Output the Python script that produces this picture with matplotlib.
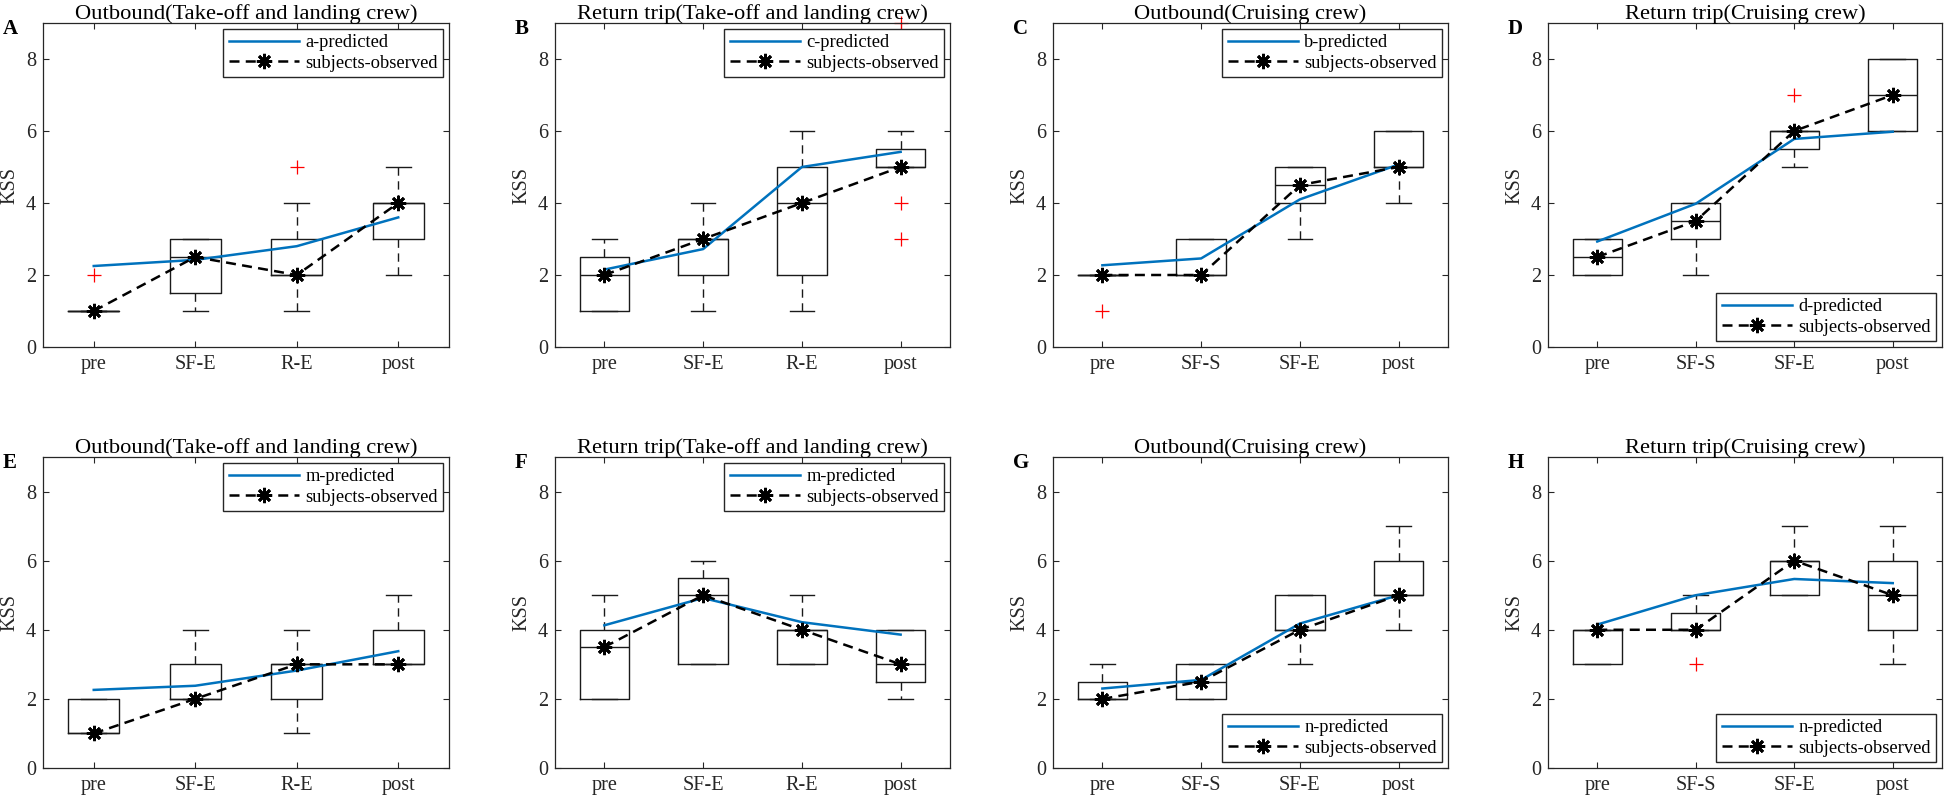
import matplotlib
matplotlib.use('Agg')
import matplotlib.pyplot as plt
from matplotlib.lines import Line2D

plt.rcParams['font.family'] = ['Liberation Serif', 'DejaVu Serif']

# ---------------- data ----------------
cats_takeoff = ['pre', 'SF-E', 'R-E', 'post']
cats_cruise = ['pre', 'SF-S', 'SF-E', 'post']

titles = ['Outbound(Take-off and landing crew)', 'Return trip(Take-off and landing crew)',
          'Outbound(Cruising crew)', 'Return trip(Cruising crew)',
          'Outbound(Take-off and landing crew)', 'Return trip(Take-off and landing crew)',
          'Outbound(Cruising crew)', 'Return trip(Cruising crew)']
letters = ['A', 'B', 'C', 'D', 'E', 'F', 'G', 'H']
pred_labels = ['a-predicted', 'c-predicted', 'b-predicted', 'd-predicted',
               'm-predicted', 'm-predicted', 'n-predicted', 'n-predicted']
obs_label = 'subjects-observed'

# box stats per category: [whisker low, q1, median, q3, whisker high]
A_box = [[1, 1, 1, 1, 1], [1, 1.5, 2.5, 3, 3], [1, 2, 2, 3, 4], [2, 3, 4, 4, 5]]
A_out = [[2], [], [5], []]
A_obs = [1, 2.5, 2, 4]
A_pred = [2.25, 2.42, 2.8, 3.6]

B_box = [[1, 1, 2, 2.5, 3], [1, 2, 3, 3, 4], [1, 2, 4, 5, 6], [5, 5, 5, 5.5, 6]]
B_out = [[], [], [], [3, 4, 9]]
B_obs = [2, 3, 4, 5]
B_pred = [2.15, 2.72, 5.0, 5.42]

C_box = [[2, 2, 2, 2, 2], [2, 2, 2, 3, 3], [3, 4, 4.5, 5, 5], [4, 5, 5, 6, 6]]
C_out = [[1], [], [], []]
C_obs = [2, 2, 4.5, 5]
C_pred = [2.27, 2.46, 4.1, 5.07]

D_box = [[2, 2, 2.5, 3, 3], [2, 3, 3.5, 4, 4], [5, 5.5, 6, 6, 6], [6, 6, 7, 8, 8]]
D_out = [[], [], [7], []]
D_obs = [2.5, 3.5, 6, 7]
D_pred = [2.93, 3.98, 5.78, 5.98]

E_box = [[1, 1, 1, 2, 2], [2, 2, 2, 3, 4], [1, 2, 3, 3, 4], [3, 3, 3, 4, 5]]
E_out = [[], [], [], []]
E_obs = [1, 2, 3, 3]
E_pred = [2.26, 2.38, 2.82, 3.38]

F_box = [[2, 2, 3.5, 4, 5], [3, 3, 5, 5.5, 6], [3, 3, 4, 4, 5], [2, 2.5, 3, 4, 4]]
F_out = [[], [], [], []]
F_obs = [3.5, 5, 4, 3]
F_pred = [4.13, 4.92, 4.22, 3.86]

G_box = [[2, 2, 2, 2.5, 3], [2, 2, 2.5, 3, 3], [3, 4, 4, 5, 5], [4, 5, 5, 6, 7]]
G_out = [[], [], [], []]
G_obs = [2, 2.5, 4, 5]
G_pred = [2.3, 2.55, 4.18, 5.0]

H_box = [[3, 3, 4, 4, 4], [4, 4, 4, 4.5, 5], [5, 5, 6, 6, 7], [3, 4, 5, 6, 7]]
H_out = [[], [3], [], []]
H_obs = [4, 4, 6, 5]
H_pred = [4.15, 5.0, 5.47, 5.35]

panels = [
    (cats_takeoff, A_box, A_out, A_obs, A_pred, 'upper right'),
    (cats_takeoff, B_box, B_out, B_obs, B_pred, 'upper right'),
    (cats_cruise, C_box, C_out, C_obs, C_pred, 'upper right'),
    (cats_cruise, D_box, D_out, D_obs, D_pred, 'lower right'),
    (cats_takeoff, E_box, E_out, E_obs, E_pred, 'upper right'),
    (cats_takeoff, F_box, F_out, F_obs, F_pred, 'upper right'),
    (cats_cruise, G_box, G_out, G_obs, G_pred, 'lower right'),
    (cats_cruise, H_box, H_out, H_obs, H_pred, 'lower right'),
]

# ---------------- layout ----------------
W, H = 1944, 800
fig = plt.figure(figsize=(W / 100, H / 100), dpi=100)
lefts = [43, 555, 1053, 1548]
widths = [406, 395, 395, 394]
rows = [(23, 347), (457, 768)]  # (top, bottom) in pixels

gray = '#262626'
blue = '#0072BD'
star = (8, 2, 0)

for i, (cats, box, outs, obs, pred, loc) in enumerate(panels):
    r, c = divmod(i, 4)
    top, bot = rows[r]
    ax = fig.add_axes([lefts[c] / W, 1 - bot / H, widths[c] / W, (bot - top) / H])
    pos = list(range(1, len(cats) + 1))
    stats = []
    for b, o in zip(box, outs):
        stats.append(dict(whislo=b[0], q1=b[1], med=b[2], q3=b[3], whishi=b[4], fliers=o))
    res = ax.bxp(stats, positions=pos, widths=0.5, capwidths=0.25, manage_ticks=False,
                 boxprops=dict(color='#1a1a1a', lw=1.0),
                 whiskerprops=dict(color='#1a1a1a', lw=1.0, linestyle=(0, (6, 4))),
                 capprops=dict(color='#1a1a1a', lw=1.0),
                 medianprops=dict(color='#1a1a1a', lw=1.0),
                 flierprops=dict(marker='+', markeredgecolor='red', markersize=10,
                                 markeredgewidth=0.9, linestyle='none'))
    for f in res['fliers']:
        f.set_clip_on(False)
    ax.plot(pos, pred, color=blue, lw=1.8, label=pred_labels[i], zorder=4)
    ax.plot(pos, obs, color='k', lw=1.8, linestyle=(0, (4, 2.5)), marker=star,
            markersize=11, markeredgewidth=2.0, label=obs_label, zorder=5)

    ax.set_xlim(0.5, len(cats) + 0.5)
    ax.set_ylim(0, 9)
    ax.set_xticks(pos)
    ax.set_xticklabels(cats)
    ax.set_yticks([0, 2, 4, 6, 8])
    ax.tick_params(direction='in', top=True, right=True, length=4, width=0.8,
                   colors=gray, labelsize=14.6)
    ax.tick_params(axis='x', pad=6)
    ax.tick_params(axis='y', pad=5)
    for s in ax.spines.values():
        s.set_color(gray)
        s.set_linewidth(0.9)
    ax.set_ylabel('KSS', fontsize=14.6, color=gray, labelpad=5)
    ax.set_title(titles[i], fontsize=16.2, color='k', pad=3)

    leg = ax.legend(loc=loc, fontsize=13.3, frameon=True, fancybox=False,
                    edgecolor=gray, framealpha=1, handlelength=3.8,
                    handletextpad=0.35, labelspacing=0.2, borderpad=0.3,
                    borderaxespad=0.3)
    leg.get_frame().set_linewidth(1.0)

    fig.text((lefts[c] - 40) / W, 1 - (top + 11) / H, letters[i], fontsize=15,
             fontweight='bold', ha='left', va='baseline', color='k')

fig.savefig('out.png', dpi=100)
